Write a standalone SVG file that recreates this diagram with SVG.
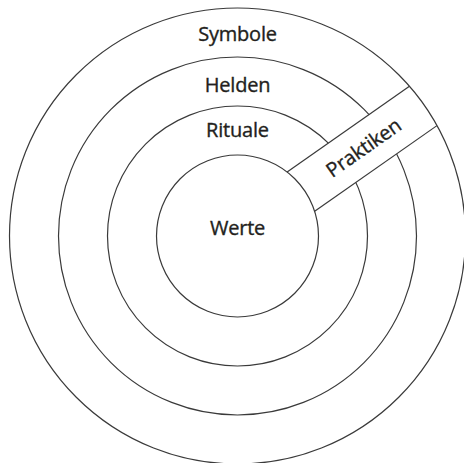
<svg xmlns="http://www.w3.org/2000/svg" width="464" height="463" viewBox="0 0 464 463">
<style>
.ring{fill:none;stroke:#3a3a3a;stroke-width:1.2}
.lbl{font-family:"Open Sans","Noto Sans","Liberation Sans",sans-serif;font-size:20px;fill:#231f20;stroke:#231f20;stroke-width:0.35;text-anchor:middle;letter-spacing:-0.2px}
</style>
<rect width="464" height="463" fill="#fff"/>
<g id="helden-ring"><circle class="ring" cx="237.5" cy="236" r="179"/></g>
<g id="rituale-ring"><circle class="ring" cx="237.5" cy="236" r="130"/></g>
<g id="praktiken" transform="translate(237.5 236) rotate(-35)">
<rect x="77.4" y="-24" width="149.3" height="48" fill="#fff"/>
<line class="ring" x1="77.4" y1="-24" x2="226.7" y2="-24"/>
<line class="ring" x1="77.4" y1="24" x2="226.7" y2="24"/>
<text class="lbl" x="154" y="7">Praktiken</text>
</g>
<g id="werte"><circle class="ring" cx="237.5" cy="236" r="81"/><text class="lbl" x="237.5" y="235">Werte</text></g>
<g id="symbole"><circle class="ring" cx="237.5" cy="236" r="228"/><text class="lbl" x="237.5" y="41">Symbole</text></g>
<g id="helden"><text class="lbl" x="237.5" y="92">Helden</text></g>
<g id="rituale"><text class="lbl" x="237.5" y="137">Rituale</text></g>
</svg>
